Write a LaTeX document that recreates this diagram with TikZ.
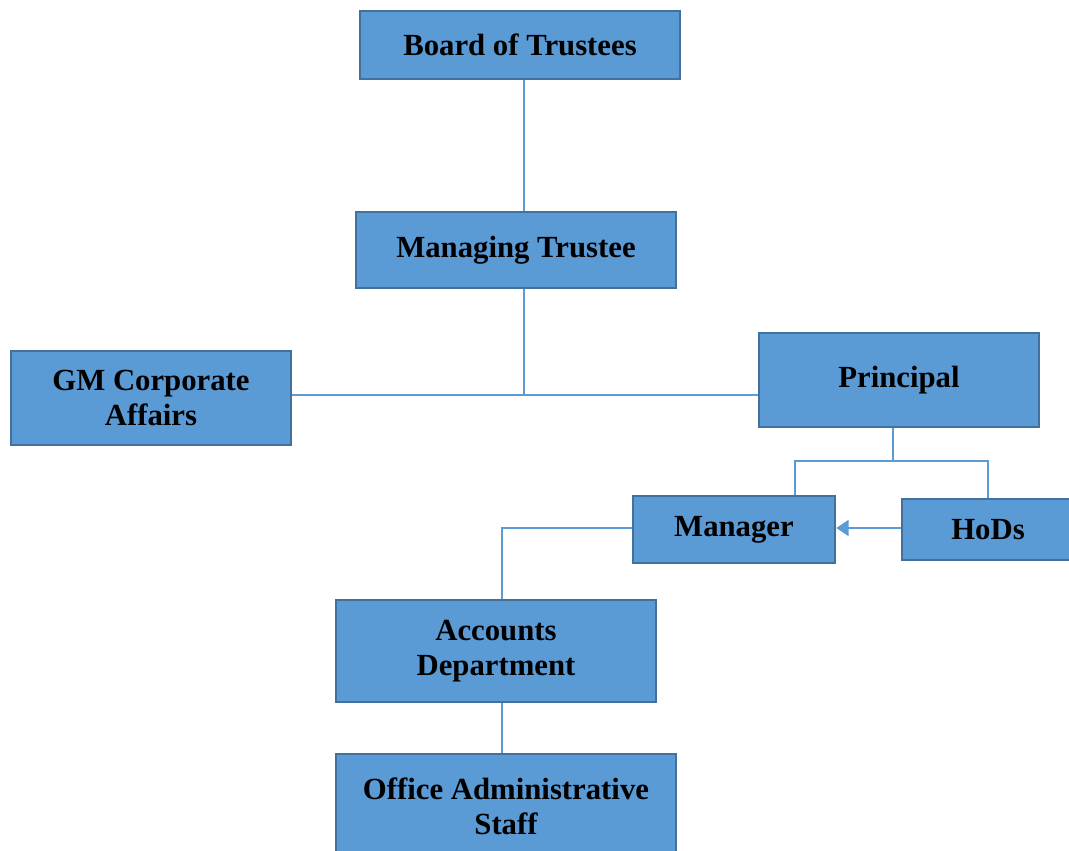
\documentclass[tikz,border=0pt]{standalone}
\usepackage{fontspec}
\setmainfont{Liberation Serif}
\usepackage{tikz}
\usetikzlibrary{arrows.meta}
\definecolor{boxfill}{RGB}{91,155,213}
\definecolor{boxline}{RGB}{65,113,156}
\definecolor{wire}{RGB}{91,155,213}
\tikzset{
  unit/.style={draw=boxline, fill=boxfill, line width=1.4pt, align=center,
    inner sep=0pt, font=\fontsize{17.5}{20}\selectfont\bfseries},
  link/.style={draw=wire, line width=1.1pt}
}

\begin{document}
\begin{tikzpicture}[x=0.02cm, y=-0.02cm]
\useasboundingbox (0,0) rectangle (1069,851);
%% boxes, centres in pixels
\node[unit, minimum width=320*0.02cm, minimum height=68*0.02cm] (board) at (520,45) {Board of Trustees};
\node[unit, minimum width=320*0.02cm, minimum height=76*0.02cm] (mtrustee) at (516,250) {Managing Trustee};
\node[unit, minimum width=280*0.02cm, minimum height=94*0.02cm] (gm) at (151,398) {GM Corporate\\Affairs};
\node[unit, minimum width=280*0.02cm, minimum height=94*0.02cm] (principal) at (899,380) {Principal};
\node[unit, minimum width=202*0.02cm, minimum height=67*0.02cm] (manager) at (734,529.5) {Manager};
\node[unit, minimum width=172*0.02cm, minimum height=61*0.02cm] (hods) at (988,529.5) {HoDs};
\node[unit, minimum width=320*0.02cm, minimum height=102*0.02cm] (accounts) at (496,651) {Accounts\\Department};
\node[unit, minimum width=340*0.02cm, minimum height=104*0.02cm, text depth=0pt] (office) at (506,806) {Office Administrative\\Staff};
%% junction points
\coordinate (j1) at (524,395);
\coordinate (j2) at (893,461);
\coordinate (m1) at (795,461);
\coordinate (h1) at (988,461);
\coordinate (a1) at (502,528);
%% connectors
\draw[link] (board.south -| j1) -- (mtrustee.north -| j1);
\draw[link] (mtrustee.south -| j1) -- (j1);
\draw[link] (gm.east |- j1) -- (principal.west |- j1);
\draw[link] (principal.south -| j2) -- (j2);
\draw[link] (manager.north -| m1) -- (m1) -- (h1) -- (hods.north -| h1);
\draw[link, -{Triangle[length=7pt, width=9pt]}] (hods.west |- a1) -- (manager.east |- a1);
\draw[link] (manager.west |- a1) -- (a1) -- (accounts.north -| a1);
\draw[link] (accounts.south -| a1) -- (office.north -| a1);
\end{tikzpicture}
\end{document}
